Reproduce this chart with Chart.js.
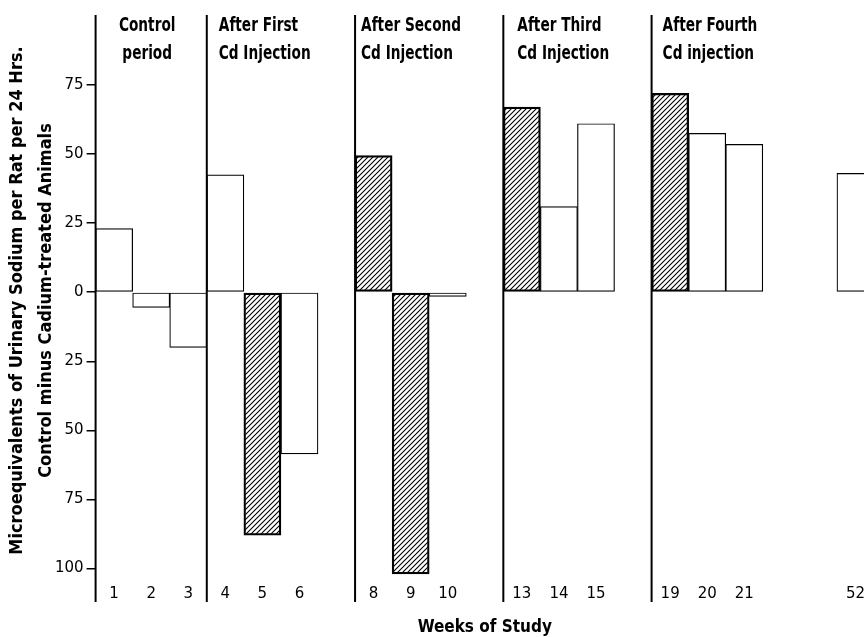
<!DOCTYPE html>
<html>
<head>
<meta charset="utf-8">
<script src="https://cdn.jsdelivr.net/npm/chart.js@4.4.0/dist/chart.umd.min.js"></script>
<style>
html, body { margin: 0; padding: 0; background: #fff; overflow: hidden; }
#wrap { width: 884px; height: 637px; }
</style>
</head>
<body>
<div id="wrap"><canvas id="myChart"></canvas></div>
<script>
// weeks of study ('' = empty slot between periods)
const weeks = ['1', '2', '3', '4', '5', '6', '', '8', '9', '10', '', '13', '14', '15', '', '19', '20', '21', '', '', '52'];
// control minus cadmium-treated, microequivalents Na / rat / 24 h
const sodiumDiff = [23, -5.5, -20, 42.5, -88, -58.5, null, 49.5, -102, -1.5, null, 67, 31, 61, null, 72, 57.5, 53.5, null, null, 43];
// hatched weeks
const cdWeeks = ['5', '8', '9', '13', '19'];
const yTicks = [75, 50, 25, 0, -25, -50, -75, -100];
const periodTitles = [
    ['Control', 'period'],
    ['After First', 'Cd Injection'],
    ['After Second', 'Cd Injection'],
    ['After Third', 'Cd Injection'],
    ['After Fourth', 'Cd injection']
];
// a period divider is drawn just before these weeks
const periodStart = ['4', '8', '13', '19'];

const narrowBold = '"DejaVu Sans Condensed", sans-serif';

function makeHatch() {
    const c = document.createElement('canvas');
    c.width = 5; c.height = 5;
    const g = c.getContext('2d');
    g.strokeStyle = '#000';
    g.lineWidth = 1.1;
    g.beginPath();
    g.moveTo(0, 5); g.lineTo(5, 0);
    g.moveTo(-1, 1); g.lineTo(1, -1);
    g.moveTo(4, 6); g.lineTo(6, 4);
    g.stroke();
    return g.createPattern(c, 'repeat');
}
const hatch = makeHatch();

const periodLines = {
    id: 'periodLines',
    afterDraw(chart) {
        const { ctx, chartArea, scales: { x } } = chart;
        const top = chartArea.top - 1, bottom = chartArea.bottom + 17;
        const xs = [chartArea.left].concat(periodStart.map(w => {
            const i = weeks.indexOf(w);
            return (x.getPixelForValue(i - 1) + x.getPixelForValue(i)) / 2;
        }));
        ctx.save();
        ctx.strokeStyle = '#000';
        ctx.lineWidth = 2;
        xs.forEach(px => {
            ctx.beginPath();
            ctx.moveTo(px, top);
            ctx.lineTo(px, bottom);
            ctx.stroke();
        });

        // period headings, squeezed to look like the narrow original type
        const offsets = [-4, 12, 6, 14, 11];
        const squeeze = 0.8;
        ctx.font = 'bold 19px ' + narrowBold;
        ctx.fillStyle = '#000';
        ctx.textBaseline = 'middle';
        periodTitles.forEach((lines, k) => {
            let tx;
            if (k === 0) {
                tx = (xs[0] + xs[1]) / 2 + offsets[0];
                ctx.textAlign = 'center';
            } else {
                tx = xs[k] + offsets[k];
                ctx.textAlign = 'left';
            }
            lines.forEach((t, j) => {
                ctx.save();
                ctx.translate(tx, top + 11 + j * 28);
                ctx.scale(squeeze, 1);
                ctx.fillText(t, 0, 0);
                ctx.restore();
            });
        });
        ctx.restore();
    }
};

const data = {
    labels: weeks,
    datasets: [{
        data: sodiumDiff,
        backgroundColor: c => cdWeeks.includes(weeks[c.dataIndex]) ? hatch : '#fff',
        borderColor: '#000',
        borderWidth: c => cdWeeks.includes(weeks[c.dataIndex]) ? 1.6 : 1.2,
        borderSkipped: false,
        barPercentage: 1,
        categoryPercentage: 1
    }]
};

const config = {
    type: 'bar',
    data,
    options: {
        responsive: true,
        maintainAspectRatio: false,
        animation: false,
        layout: { padding: { top: 16, right: 10, bottom: 0, left: 0 } },
        plugins: {
            legend: { display: false },
            tooltip: { enabled: false }
        },
        scales: {
            x: {
                grid: { display: false, drawTicks: false },
                border: { display: false },
                ticks: {
                    autoSkip: false,
                    maxRotation: 0,
                    padding: 0,
                    color: '#000',
                    font: { family: '"DejaVu Sans", sans-serif', size: 15 }
                },
                title: {
                    display: true,
                    text: 'Weeks of Study',
                    color: '#000',
                    font: { family: narrowBold, size: 17, weight: 'bold', lineHeight: 1 },
                    padding: { top: 16, bottom: 1 }
                }
            },
            y: {
                min: -106,
                max: 100,
                afterBuildTicks: axis => {
                    axis.ticks = yTicks.map(v => ({ value: v }));
                },
                grid: {
                    drawOnChartArea: false,
                    drawTicks: true,
                    tickLength: 9,
                    color: '#000',
                    lineWidth: 1.5
                },
                border: { display: false },
                ticks: {
                    padding: 3,
                    color: '#000',
                    font: { family: '"DejaVu Sans", sans-serif', size: 15 },
                    callback: v => Math.abs(v)
                },
                title: {
                    display: true,
                    text: ['Microequivalents of Urinary Sodium per Rat per 24 Hrs.', 'Control minus Cadium-treated Animals'],
                    color: '#000',
                    font: { family: narrowBold, size: 18, weight: 'bold', lineHeight: 1.61 },
                    padding: { top: 3, bottom: -9 }
                }
            }
        }
    },
    plugins: [periodLines]
};

const myChart = new Chart(document.getElementById('myChart'), config);
</script>
</body>
</html>
